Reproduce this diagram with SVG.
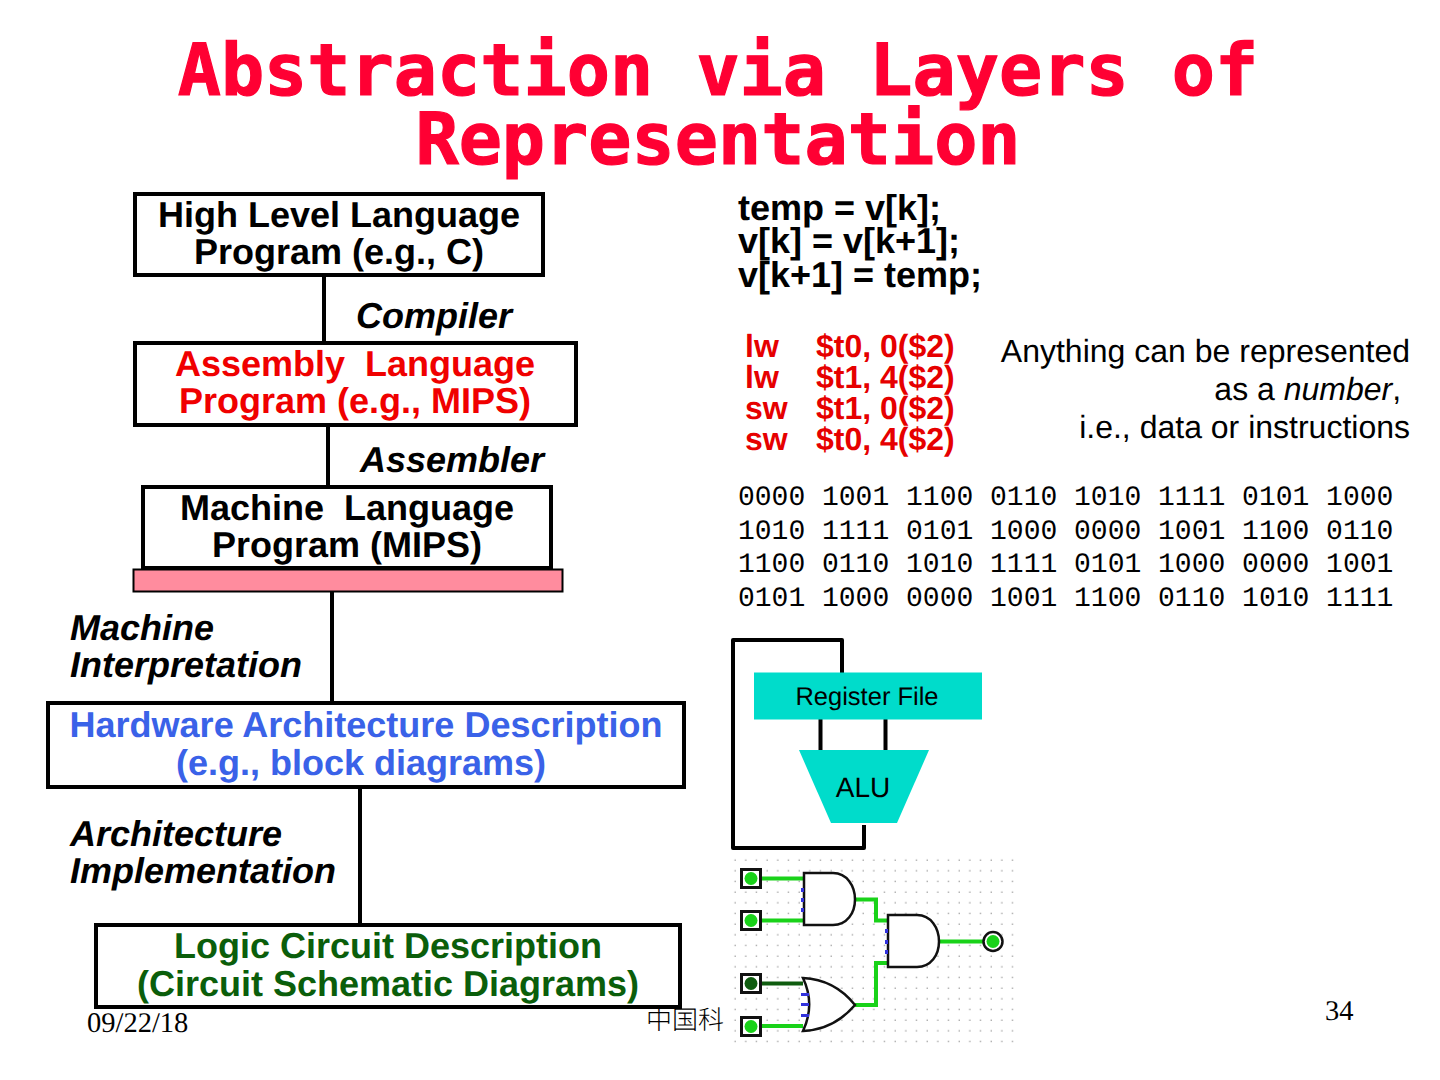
<svg xmlns="http://www.w3.org/2000/svg" width="1440" height="1080" viewBox="0 0 1440 1080">
<style>
text{font-family:"Liberation Sans",Arial,sans-serif;fill:#000;text-rendering:geometricPrecision}
.title{font-family:"DejaVu Sans Mono",monospace;font-weight:700;font-size:71.8px;fill:#ff0033;stroke:#ff0033;stroke-width:1.2px;text-anchor:middle}
.b{font-weight:700;font-size:36px;text-anchor:middle}
.i{font-weight:700;font-style:italic;font-size:36px}
.code{font-weight:700;font-size:36px}
.asm{font-weight:700;font-size:32px;fill:#e60000}
.bin{font-family:"Liberation Mono",monospace;font-size:28px}
.note{font-size:32px;text-anchor:end}
.foot{font-family:"Liberation Serif","Noto Sans CJK SC",serif;font-size:28.500px}
.box{fill:#fff;stroke:#000;stroke-width:4}
.conn{fill:none;stroke:#000;stroke-width:4}
.teal{fill:#00dccb}
.thick{fill:none;stroke:#000;stroke-width:4;stroke-linejoin:round}
.w{fill:none;stroke:#19d219;stroke-width:4}
.gate{fill:#fff;stroke:#111;stroke-width:2.500}
.pin{fill:#fff;stroke:#111;stroke-width:3}
.pt{fill:#19d219}
.blue{fill:#3333dd}
.dots{fill:#999}
</style>
<defs>
<pattern id="grid" x="730" y="855" width="10.67" height="10.67" patternUnits="userSpaceOnUse"><rect x="4.500" y="4.500" width="1.300" height="1.300" class="dots"/></pattern>
</defs>
<g id="title">
<text class="title" x="718" y="95">Abstraction via Layers of</text>
<text class="title" x="718" y="164">Representation</text>
</g>
<g id="footer">
<text class="foot" x="87" y="1032">09/22/18</text>
<text class="foot" x="646" y="1029" style="font-family:'Noto Sans CJK SC','Liberation Serif',sans-serif;font-size:26px;font-weight:300">中国科</text>
<text class="foot" x="1325" y="1020">34</text>
</g>
<g id="connectors">
<path class="conn" d="M324 276V343M328 425V487M332 591V703M360 787V925"/>
</g>
<g id="hll"><rect class="box" x="135" y="194" width="408" height="81"/>
<text class="b" x="339" y="227">High Level Language</text><text class="b" x="339" y="264">Program (e.g., C)</text></g>
<g id="compiler"><text class="i" x="356" y="328">Compiler</text></g>
<g id="asm"><rect class="box" x="135" y="343" width="441" height="82"/>
<text class="b" x="355" y="376" style="fill:#f00000;white-space:pre" xml:space="preserve">Assembly  Language</text><text class="b" x="355" y="413" style="fill:#f00000">Program (e.g., MIPS)</text></g>
<g id="assembler"><text class="i" x="360" y="472">Assembler</text></g>
<g id="ml"><rect class="box" x="143" y="487" width="408" height="81"/>
<text class="b" x="347" y="520" xml:space="preserve">Machine  Language</text><text class="b" x="347" y="557">Program (MIPS)</text></g>
<g id="pinkbar"><rect x="133.500" y="569.500" width="429" height="22" fill="#ff8c9e" stroke="#000" stroke-width="2"/></g>
<g id="machine-interp"><text class="i" x="70" y="640">Machine</text><text class="i" x="70" y="677">Interpretation</text></g>
<g id="hw"><rect class="box" x="48" y="703" width="636" height="84"/>
<text class="b" x="366" y="737" style="fill:#3a62e8">Hardware Architecture Description</text><text class="b" x="361" y="775" style="fill:#3a62e8">(e.g., block diagrams)</text></g>
<g id="arch-impl"><text class="i" x="70" y="846">Architecture</text><text class="i" x="70" y="883">Implementation</text></g>
<g id="logic"><rect class="box" x="96" y="925" width="584" height="82"/>
<text class="b" x="388" y="958" style="fill:#0b5e0b">Logic Circuit Description</text><text class="b" x="388" y="996" style="fill:#0b5e0b">(Circuit Schematic Diagrams)</text></g>
<g id="c-code"><text class="code" x="738" y="220">temp = v[k];</text><text class="code" x="738" y="253">v[k] = v[k+1];</text><text class="code" x="738" y="287">v[k+1] = temp;</text></g>
<g id="asm-code">
<text class="asm" x="745" y="357">lw</text><text class="asm" x="816" y="357">$t0, 0($2)</text>
<text class="asm" x="745" y="388">lw</text><text class="asm" x="816" y="388">$t1, 4($2)</text>
<text class="asm" x="745" y="419">sw</text><text class="asm" x="816" y="419">$t1, 0($2)</text>
<text class="asm" x="745" y="450">sw</text><text class="asm" x="816" y="450">$t0, 4($2)</text>
</g>
<g id="note"><text class="note" x="1410" y="362">Anything can be represented</text>
<text class="note" x="1410" y="400" xml:space="preserve">as a <tspan font-style="italic">number</tspan>, </text>
<text class="note" x="1410" y="438">i.e., data or instructions</text></g>
<g id="binary">
<text class="bin" x="738" y="505">0000 1001 1100 0110 1010 1111 0101 1000</text>
<text class="bin" x="738" y="539">1010 1111 0101 1000 0000 1001 1100 0110</text>
<text class="bin" x="738" y="572">1100 0110 1010 1111 0101 1000 0000 1001</text>
<text class="bin" x="738" y="606">0101 1000 0000 1001 1100 0110 1010 1111</text>
</g>
<g id="block-diagram">
<path class="thick" d="M842 673V640H733V848H864V825"/>
<path class="thick" d="M820.500 718V750M885.500 718V750"/>
<rect class="teal" x="754" y="672.500" width="228" height="47"/>
<polygon class="teal" points="799,750 929,750 897,823 831,823"/>
<text x="867" y="705" text-anchor="middle" font-size="25.500">Register File</text>
<text x="863" y="797" text-anchor="middle" font-size="28">ALU</text>
</g>
<g id="schematic">
<rect x="730" y="855" width="285" height="193" fill="#fff"/>
<rect x="730" y="855" width="285" height="193" fill="url(#grid)"/>
<path class="w" d="M760 878.500H803M760 920.500H803M760 1026H803M855 899.500H876V920.500H888M855 1005H876V963H888M939 941.500H985"/>
<path d="M760 983.500H803" fill="none" stroke="#0f5c0f" stroke-width="4"/>
<path class="gate" d="M804 873H833C847 873 855 886 855 899.500C855 913 847 925 833 925H804Z"/>
<path class="gate" d="M888 915H917C931 915 939 928 939 941.500C939 955 931 967 917 967H888Z"/>
<path class="gate" d="M803 978C825 979 843 990 855 1005C843 1019 825 1030 803 1031C811 1014 811 995 803 978Z"/>
<g class="blue"><rect x="801" y="888" width="3" height="4"/><rect x="801" y="898" width="3" height="4"/><rect x="801" y="908" width="3" height="4"/>
<rect x="885" y="929" width="3" height="4"/><rect x="885" y="940" width="3" height="4"/><rect x="885" y="950" width="3" height="4"/>
<rect x="801" y="993" width="8" height="3"/><rect x="801" y="1003" width="8" height="3"/><rect x="801" y="1014" width="8" height="3"/></g>
<rect class="pin" x="741.500" y="869.500" width="19" height="18"/><circle class="pt" cx="751" cy="878.500" r="6.500"/>
<rect class="pin" x="741.500" y="911.500" width="19" height="18"/><circle class="pt" cx="751" cy="920.500" r="6.500"/>
<rect class="pin" x="741.500" y="974.500" width="19" height="18"/><circle cx="751" cy="983.500" r="6.500" fill="#0f5c0f"/>
<rect class="pin" x="741.500" y="1017.500" width="19" height="18"/><circle class="pt" cx="751" cy="1026.500" r="6.500"/>
<circle cx="993" cy="941.500" r="9.500" fill="#fff" stroke="#111" stroke-width="2.500"/><circle class="pt" cx="993" cy="941.500" r="6.500"/>
</g>
</svg>
